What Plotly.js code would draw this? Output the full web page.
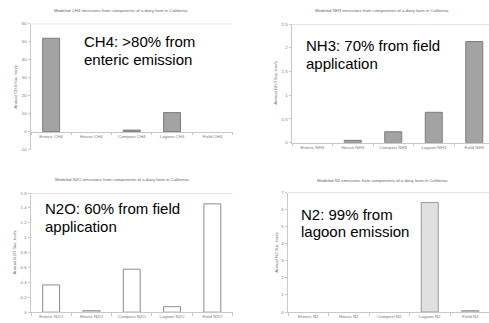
<!DOCTYPE html>
<html>
<head>
<meta charset="utf-8">
<script src="https://cdn.plot.ly/plotly-3.0.1.min.js"></script>
<style>html,body{margin:0;padding:0;background:#fff}#chart{width:489px;height:323px}</style>
</head>
<body>
<div id="chart"></div>
<script>
// ---- data ----
const ch4Categories = ["Enteric CH4", "House CH4", "Compost CH4", "Lagoon CH4", "Field CH4"];
const ch4Values = [51.9, 0, 0.9, 10.6, 0];
const nh3Categories = ["Enteric NH3", "House NH3", "Compost NH3", "Lagoon NH3", "Field NH3"];
const nh3Values = [0, 0.05, 0.23, 0.64, 2.13];
const n2oCategories = ["Enteric N2O", "House N2O", "Compost N2O", "Lagoon N2O", "Field N2O"];
const n2oValues = [0.366, 0.02, 0.577, 0.074, 1.454];
const n2Categories = ["Enteric N2", "House N2", "Compost N2", "Lagoon N2", "Field N2"];
const n2Values = [0, 0, 0, 6.41, 0.08];

const ch4Ticks = [-10, 0, 10, 20, 30, 40, 50, 60];
const nh3Ticks = [0, 0.5, 1, 1.5, 2, 2.5];
const n2oTicks = [0, 0.2, 0.4, 0.6, 0.8, 1, 1.2, 1.4, 1.6];
const n2Ticks = [0, 1, 2, 3, 4, 5, 6, 7];

const chartTitles = [
  "Modeled CH4 emissions from components of a dairy farm in California",
  "Modeled NH3 emissions from components of a dairy farm in California",
  "Modeled N2O emissions from components of a dairy farm in California",
  "Modeled N2 emissions from components of a dairy farm in California"
];
const yTitles = ["Annual CH4 flux, ton/y", "Annual NH3 flux, ton/y", "Annual N2O flux, ton/y", "Annual N2 flux, ton/y"];
const noteLines = [
  ["CH4: >80% from", "enteric emission"],
  ["NH3: 70% from field", "application"],
  ["N2O: 60% from field", "application"],
  ["N2: 99% from", "lagoon emission"]
];

// ---- layout helpers ----
const W = 489, H = 323;
const px = v => v / W;
const py = v => (H - v) / H;
const FONT = "Liberation Sans, Arial, sans-serif";
const tickFont = {family: FONT, size: 4.4, color: "#777"};
const axisColor = "#c8c8c8";

const panels = [
  {cats: ch4Categories, vals: ch4Values, ticks: ch4Ticks, fill: "#a3a3a3", line: "#7c7c7c",
   x0: 31, step: 40.3, top: 23.7, bottom: 149.7, titleX: 121, titleY: 10, yTitleX: 16,
   noteX: 82, noteY: [42, 59.5]},
  {cats: nh3Categories, vals: nh3Values, ticks: nh3Ticks, fill: "#a3a3a3", line: "#7c7c7c",
   x0: 292, step: 40.5, top: 24, bottom: 142.7, titleX: 382, titleY: 11, yTitleX: 275.5,
   noteX: 304, noteY: [45.5, 63]},
  {cats: n2oCategories, vals: n2oValues, ticks: n2oTicks, fill: "#ffffff", line: "#8c8c8c",
   x0: 31, step: 40.3, top: 193, bottom: 312.2, titleX: 121.5, titleY: 179.5, yTitleX: 15,
   noteX: 43, noteY: [209, 226.5]},
  {cats: n2Categories, vals: n2Values, ticks: n2Ticks, fill: "#e0e0e0", line: "#9a9a9a",
   x0: 288, step: 40.5, top: 192.5, bottom: 312, titleX: 382, titleY: 180, yTitleX: 276.5,
   noteX: 299, noteY: [214, 231.5]}
];

const traces = [];
const layout = {
  width: W, height: H,
  margin: {l: 0, r: 0, t: 0, b: 0},
  paper_bgcolor: "#fff", plot_bgcolor: "rgba(0,0,0,0)",
  showlegend: false,
  font: {family: FONT},
  annotations: [], shapes: []
};

panels.forEach((p, i) => {
  const n = i + 1;
  const xa = "x" + (n === 1 ? "" : n), ya = "y" + (n === 1 ? "" : n);
  const xKey = "xaxis" + (n === 1 ? "" : n), yKey = "yaxis" + (n === 1 ? "" : n);
  traces.push({
    type: "bar", x: p.cats, y: p.vals, xaxis: xa, yaxis: ya, width: 0.42,
    marker: {color: p.fill, line: {color: p.line, width: p.vals.map(v => v > 0 ? 1 : 0)}},
    hoverinfo: "skip"
  });
  const xRight = p.x0 + p.step * p.cats.length;
  const xEnd = Math.min(xRight, W);
  const rangeMax = -0.5 + (xEnd - p.x0) / p.step;
  const yMin = p.ticks[0], yMax = p.ticks[p.ticks.length - 1];
  const yDom = [py(p.bottom), py(p.top)];
  const xaxis = {
    domain: [px(p.x0), px(xEnd)], range: [-0.5, rangeMax], anchor: ya,
    type: "category", showgrid: false, zeroline: false,
    showline: true, linecolor: axisColor, linewidth: 1,
    ticks: "outside", tickson: "boundaries", ticklen: 2.5, tickcolor: axisColor,
    tickfont: tickFont, fixedrange: true
  };
  if (yMin < 0) {
    xaxis.anchor = "free";
    xaxis.position = yDom[0] + (0 - yMin) / (yMax - yMin) * (yDom[1] - yDom[0]);
  }
  layout[xKey] = xaxis;
  layout[yKey] = {
    domain: yDom, range: [yMin, yMax], anchor: xa,
    tickvals: p.ticks, ticktext: p.ticks.map(String),
    showgrid: false, zeroline: false,
    showline: true, linecolor: axisColor, linewidth: 1,
    ticks: "outside", ticklen: 2.5, tickcolor: axisColor,
    tickfont: tickFont, fixedrange: true
  };
  // plot-area top border
  layout.shapes.push({type: "line", xref: xa + " domain", yref: ya,
    x0: 0, x1: 1, y0: yMax, y1: yMax, line: {color: axisColor, width: 1}});
  // chart title
  layout.annotations.push({text: chartTitles[i], xref: "paper", yref: "paper",
    x: px(p.titleX), y: py(p.titleY), xanchor: "center", yanchor: "middle",
    showarrow: false, font: {family: FONT, size: 4.3, color: "#666"}});
  // y axis title
  layout.annotations.push({text: yTitles[i], xref: "paper", yref: "paper",
    x: px(p.yTitleX), y: (yDom[0] + yDom[1]) / 2, xanchor: "center", yanchor: "middle",
    textangle: -90, showarrow: false, font: {family: FONT, size: 4.4, color: "#777"}});
  // note text
  noteLines[i].forEach((t, k) => {
    layout.annotations.push({text: t, xref: "paper", yref: "paper",
      x: px(p.noteX), y: py(p.noteY[k]), xanchor: "left", yanchor: "middle",
      showarrow: false, font: {family: FONT, size: 15, color: "#000"}});
  });
});

Plotly.newPlot("chart", traces, layout, {staticPlot: true, displayModeBar: false});
</script>
</body>
</html>
